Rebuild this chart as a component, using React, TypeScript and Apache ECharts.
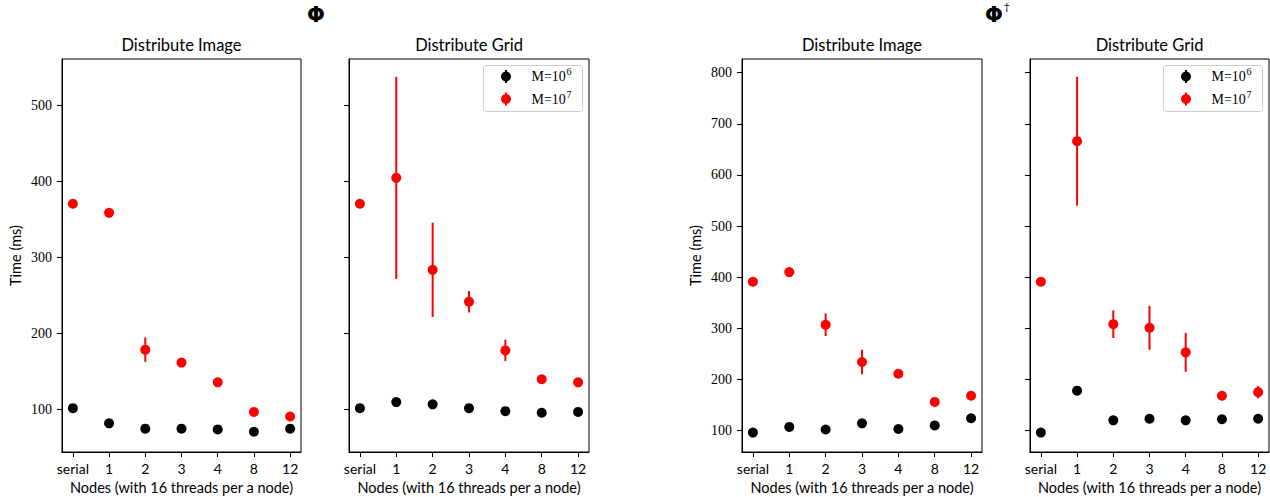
import React, { useEffect, useRef } from "react";
import * as echarts from "echarts";

const CATEGORIES = ["serial", "1", "2", "3", "4", "8", "12"];

// Φ, Distribute Image
const PHI_IMAGE_M6 = [102, 82, 75, 75, 74, 71, 75];
const PHI_IMAGE_M7 = [371, 359, 179, 162, 136, 97, 91];
const PHI_IMAGE_M7_ERR = [0, 0, 16, 0, 0, 0, 0];
// Φ, Distribute Grid
const PHI_GRID_M6 = [102, 110, 107, 102, 98, 96, 97];
const PHI_GRID_M7 = [371, 405, 284, 242, 178, 140, 136];
const PHI_GRID_M7_ERR = [0, 133, 62, 14, 14, 0, 0];
// Φ†, Distribute Image
const ADJ_IMAGE_M6 = [96, 107, 102, 114, 103, 110, 124];
const ADJ_IMAGE_M7 = [391, 410, 307, 234, 211, 156, 168];
const ADJ_IMAGE_M7_ERR = [0, 0, 22, 24, 0, 0, 0];
// Φ†, Distribute Grid
const ADJ_GRID_M6 = [96, 178, 120, 123, 120, 122, 123];
const ADJ_GRID_M7 = [391, 666, 308, 301, 253, 168, 175];
const ADJ_GRID_M7_ERR = [0, 126, 27, 43, 38, 9, 12];

const PHI_TICKS = [100, 200, 300, 400, 500];
const ADJ_TICKS = [100, 200, 300, 400, 500, 600, 700, 800];

const PANEL_TITLES = ["Distribute Image", "Distribute Grid", "Distribute Image", "Distribute Grid"];
const X_NAME = "Nodes (with 16 threads per a node)";
const Y_NAME = "Time (ms)";

const SANS = "Lato";
const SERIF = "Liberation Serif";
const BLACK = "#000000";
const RED = "#ff0000";

export default function App() {
  const ref = useRef<HTMLDivElement>(null);

  useEffect(() => {
    if (!ref.current) return;
    const chart = echarts.init(ref.current, null, { renderer: "svg" });

    const grids = [
      { left: 62, top: 59, width: 239, height: 393 },
      { left: 349, top: 59, width: 240, height: 393 },
      { left: 742, top: 59, width: 240, height: 393 },
      { left: 1030, top: 59, width: 239, height: 393 },
    ];
    const panels = [
      { m6: PHI_IMAGE_M6, m7: PHI_IMAGE_M7, err: PHI_IMAGE_M7_ERR, ymin: 44.3, ymax: 561.4, ticks: PHI_TICKS, showY: true },
      { m6: PHI_GRID_M6, m7: PHI_GRID_M7, err: PHI_GRID_M7_ERR, ymin: 44.3, ymax: 561.4, ticks: PHI_TICKS, showY: false },
      { m6: ADJ_IMAGE_M6, m7: ADJ_IMAGE_M7, err: ADJ_IMAGE_M7_ERR, ymin: 58, ymax: 826.8, ticks: ADJ_TICKS, showY: true },
      { m6: ADJ_GRID_M6, m7: ADJ_GRID_M7, err: ADJ_GRID_M7_ERR, ymin: 58, ymax: 826.8, ticks: ADJ_TICKS, showY: false },
    ];
    const idx = CATEGORIES.map((_, i) => i);

    const xAxis = grids.map((_, i) => ({
      type: "value",
      gridIndex: i,
      position: "bottom",
      min: -0.3,
      max: 6.3,
      splitLine: { show: false },
      axisLine: { show: true, onZero: false, lineStyle: { color: BLACK, width: 1 } },
      axisTick: { show: true, inside: false, length: 5, customValues: idx, lineStyle: { color: BLACK, width: 1 } },
      axisLabel: {
        show: true,
        customValues: idx,
        margin: 9,
        formatter: (v: number) => CATEGORIES[Math.round(v)] ?? "",
        fontFamily: SANS,
        fontSize: 14,
        color: BLACK,
      },
      name: X_NAME,
      nameLocation: "middle",
      nameGap: 27,
      nameTextStyle: { fontFamily: SANS, fontSize: 14.5, color: BLACK },
    }));

    const yAxis = panels.map((p, i) => ({
      type: "value",
      gridIndex: i,
      position: "left",
      min: p.ymin,
      max: p.ymax,
      splitLine: { show: false },
      axisLine: { show: true, onZero: false, lineStyle: { color: BLACK, width: 1 } },
      axisTick: { show: true, inside: false, length: 5, customValues: p.ticks, lineStyle: { color: BLACK, width: 1 } },
      axisLabel: {
        show: p.showY,
        customValues: p.ticks,
        margin: 10,
        fontFamily: SERIF,
        fontSize: 14,
        color: BLACK,
      },
      name: p.showY ? Y_NAME : "",
      nameLocation: "middle",
      nameGap: 39,
      nameTextStyle: { fontFamily: SANS, fontSize: 14.5, color: BLACK },
    }));

    const series: any[] = [];
    panels.forEach((p, i) => {
      series.push({
        type: "scatter",
        xAxisIndex: i,
        yAxisIndex: i,
        symbol: "circle",
        symbolSize: 10,
        itemStyle: { color: BLACK, opacity: 1 },
        data: p.m6.map((v, k) => [k, v]),
        z: 2,
      });
      series.push({
        type: "custom",
        xAxisIndex: i,
        yAxisIndex: i,
        data: p.m7.map((v, k) => [k, v, p.err[k]]),
        renderItem: (params: any, api: any) => {
          const x = api.value(0);
          const y = api.value(1);
          const e = api.value(2);
          if (!e) return null;
          const a = api.coord([x, y - e]);
          const b = api.coord([x, y + e]);
          return {
            type: "line",
            shape: { x1: a[0], y1: a[1], x2: b[0], y2: b[1] },
            style: { stroke: RED, lineWidth: 2 },
          };
        },
        z: 3,
      });
      series.push({
        type: "scatter",
        xAxisIndex: i,
        yAxisIndex: i,
        symbol: "circle",
        symbolSize: 10,
        itemStyle: { color: RED, opacity: 1 },
        data: p.m7.map((v, k) => [k, v]),
        z: 4,
      });
    });

    const titles = grids.map((g, i) => ({
      text: PANEL_TITLES[i],
      left: g.left + g.width / 2,
      top: 36,
      padding: 0,
      textAlign: "center",
      textStyle: { fontFamily: SANS, fontSize: 16.5, fontWeight: "normal", color: BLACK },
    }));

    const legendGroup = (boxLeft: number) => ({
      type: "group",
      left: boxLeft,
      top: 65,
      z: 100,
      children: [
        {
          type: "rect",
          shape: { x: 0, y: 0, width: 99, height: 46, r: 3 },
          style: { fill: "rgba(255,255,255,0.8)", stroke: "#cccccc", lineWidth: 1 },
        },
        { type: "line", shape: { x1: 22.5, y1: 4.5, x2: 22.5, y2: 17.5 }, style: { stroke: BLACK, lineWidth: 2 } },
        { type: "circle", shape: { cx: 22.5, cy: 11, r: 5 }, style: { fill: BLACK } },
        { type: "line", shape: { x1: 22.5, y1: 27, x2: 22.5, y2: 40 }, style: { stroke: RED, lineWidth: 2 } },
        { type: "circle", shape: { cx: 22.5, cy: 33.5, r: 5 }, style: { fill: RED } },
        { type: "text", x: 48, y: 11, style: { text: "M=10", fontFamily: SERIF, fontSize: 14, fill: BLACK, verticalAlign: "middle" } },
        { type: "text", x: 83, y: 6, style: { text: "6", fontFamily: SERIF, fontSize: 10, fill: BLACK, verticalAlign: "middle" } },
        { type: "text", x: 48, y: 34, style: { text: "M=10", fontFamily: SERIF, fontSize: 14, fill: BLACK, verticalAlign: "middle" } },
        { type: "text", x: 83, y: 29, style: { text: "7", fontFamily: SERIF, fontSize: 10, fill: BLACK, verticalAlign: "middle" } },
      ],
    });

    const option: any = {
      animation: false,
      backgroundColor: "#ffffff",
      title: titles,
      grid: grids.map((g) => ({
        ...g,
        show: true,
        borderColor: "#000000",
        borderWidth: 1,
        backgroundColor: "transparent",
        containLabel: false,
        outerBoundsMode: "none",
      })),
      xAxis,
      yAxis,
      series,
      graphic: [
        {
          type: "text",
          left: 307,
          top: 4,
          style: { text: "Φ", fontFamily: "DejaVu Sans", fontWeight: "bold", fontSize: 21, fill: BLACK },
        },
        {
          type: "text",
          left: 985,
          top: 4,
          style: { text: "Φ", fontFamily: "DejaVu Sans", fontWeight: "bold", fontSize: 21, fill: BLACK },
        },
        {
          type: "text",
          left: 1004,
          top: 2,
          style: { text: "†", fontFamily: "DejaVu Serif", fontSize: 11, fill: BLACK },
        },
        legendGroup(483),
        legendGroup(1163),
      ],
    };

    chart.setOption(option);
    return () => chart.dispose();
  }, []);

  return (
    <div
      ref={ref}
      style={{ position: "fixed", left: 0, top: 0, width: 1270, height: 497, background: "#fff" }}
    />
  );
}
